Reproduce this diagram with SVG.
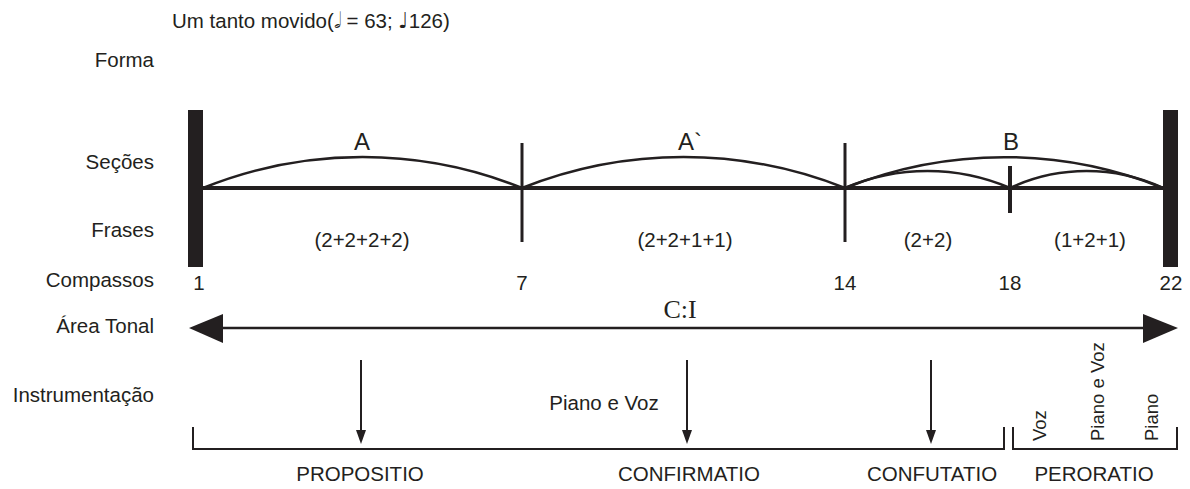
<svg xmlns="http://www.w3.org/2000/svg" width="1190" height="489" viewBox="0 0 1190 489">
<style>
text{font-family:"Liberation Sans",Arial,sans-serif;fill:#231f20;font-size:20.5px}
.lbl{text-anchor:end}
.c{text-anchor:middle}
.sec{font-size:24px;text-anchor:middle}
.arc{fill:none;stroke:#231f20;stroke-width:2.5}
.ln{stroke:#231f20;fill:none}
.rot{font-size:18.5px}
.note{font-family:"DejaVu Sans",sans-serif;font-size:22px}
</style>
<g id="title"><text x="172" y="28">Um tanto movido(<tspan class="note">𝅗𝅥</tspan> = 63; <tspan class="note">♩</tspan>126)</text></g>
<g id="row-labels">
<text class="lbl" x="154" y="67">Forma</text>
<text class="lbl" x="154" y="169">Seções</text>
<text class="lbl" x="154" y="237">Frases</text>
<text class="lbl" x="154" y="287">Compassos</text>
<text class="lbl" x="154" y="333">Área Tonal</text>
<text class="lbl" x="154" y="402">Instrumentação</text>
</g>
<g id="timeline">
<rect x="188" y="110" width="15" height="157" fill="#231f20"/>
<rect x="1163" y="110" width="15" height="157" fill="#231f20"/>
<line class="ln" x1="203" y1="188" x2="1163" y2="188" stroke-width="4"/>
<line class="ln" x1="522" y1="143" x2="522" y2="242" stroke-width="3"/>
<line class="ln" x1="845" y1="143" x2="845" y2="242" stroke-width="3"/>
<line class="ln" x1="1010" y1="166" x2="1010" y2="213" stroke-width="4"/>
</g>
<g id="sections">
<path class="arc" d="M203,188 A426 426 0 0 1 522,188"/>
<path class="arc" d="M522,188 A436 436 0 0 1 845,188"/>
<path class="arc" d="M845,188 A425 425 0 0 1 1163,188"/>
<path class="arc" d="M845,188 A209 209 0 0 1 1010,188"/>
<path class="arc" d="M1010,188 A181 181 0 0 1 1163,188"/>
<text class="sec" x="362" y="150">A</text>
<text class="sec" x="690" y="150">A`</text>
<text class="sec" x="1011" y="150">B</text>
</g>
<g id="phrases">
<text class="c" x="362" y="247">(2+2+2+2)</text>
<text class="c" x="685" y="247">(2+2+1+1)</text>
<text class="c" x="928" y="247">(2+2)</text>
<text class="c" x="1090" y="247">(1+2+1)</text>
</g>
<g id="measures">
<text class="c" x="199" y="290">1</text>
<text class="c" x="522" y="290">7</text>
<text class="c" x="845" y="290">14</text>
<text class="c" x="1010" y="290">18</text>
<text class="c" x="1171" y="290">22</text>
</g>
<g id="tonal">
<line class="ln" x1="220" y1="328" x2="1146" y2="328" stroke-width="2.5"/>
<path d="M189,328 L223,314 L223,343 Z" fill="#231f20"/>
<path d="M1178,328 L1143,314 L1143,343 Z" fill="#231f20"/>
<text class="c" x="680" y="318" style="font-family:'Liberation Serif','Times New Roman',serif;font-size:26px">C:I</text>
</g>
<g id="connectors">
<line class="ln" x1="361" y1="360" x2="361" y2="432" stroke-width="2"/>
<path d="M356,430 L366,430 L361,444 Z" fill="#231f20"/>
<line class="ln" x1="687" y1="360" x2="687" y2="432" stroke-width="2"/>
<path d="M682,430 L692,430 L687,444 Z" fill="#231f20"/>
<line class="ln" x1="931" y1="360" x2="931" y2="432" stroke-width="2"/>
<path d="M926,430 L936,430 L931,444 Z" fill="#231f20"/>
</g>
<g id="instrumentation">
<text class="c" x="604" y="410">Piano e Voz</text>
<text class="rot" transform="translate(1046 441) rotate(-90)">Voz</text>
<text class="rot" transform="translate(1104 441) rotate(-90)">Piano e Voz</text>
<text class="rot" transform="translate(1158 441) rotate(-90)">Piano</text>
</g>
<g id="brackets">
<path class="ln" d="M193,427 L193,449 L1004,449 L1004,427" stroke-width="2"/>
<path class="ln" d="M1013,427 L1013,449 L1177,449 L1177,427" stroke-width="2"/>
</g>
<g id="parts">
<text class="c" x="360" y="481">PROPOSITIO</text>
<text class="c" x="689" y="481">CONFIRMATIO</text>
<text class="c" x="932" y="481">CONFUTATIO</text>
<text class="c" x="1094" y="481">PERORATIO</text>
</g>
</svg>
